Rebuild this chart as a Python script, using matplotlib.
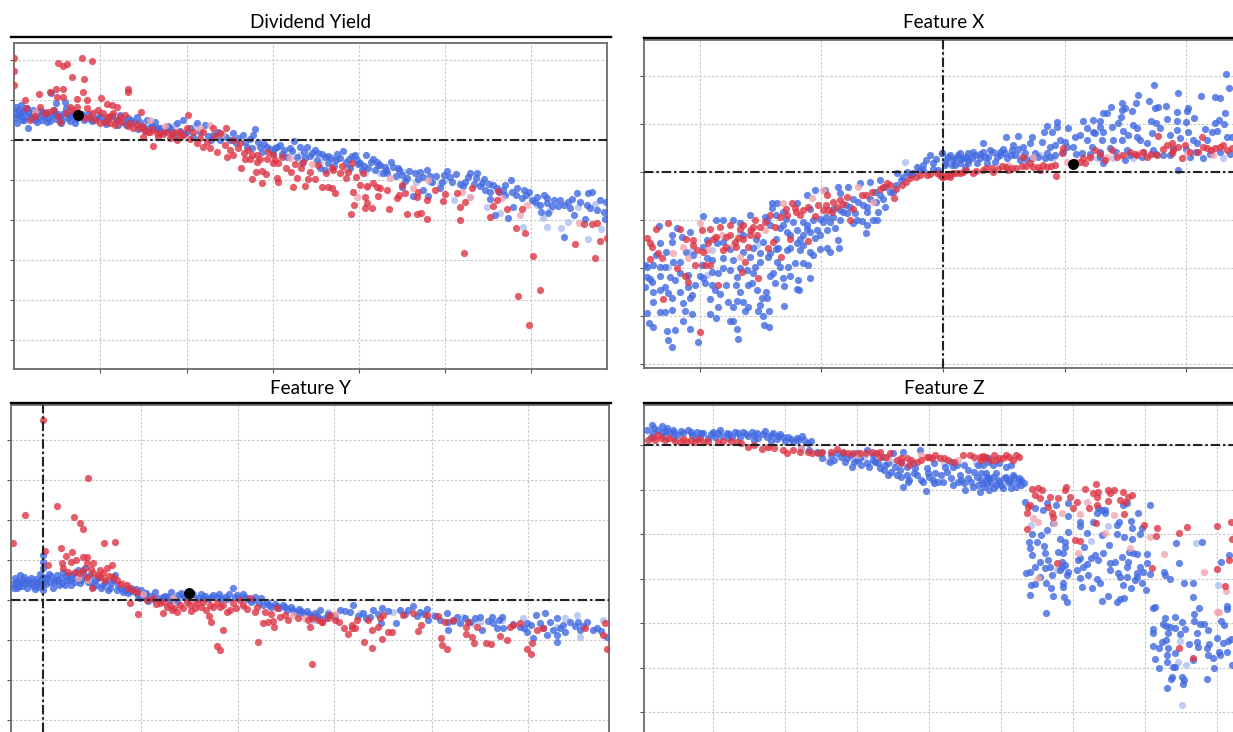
import matplotlib
matplotlib.use("Agg")
import matplotlib.pyplot as plt

W, H = 1233, 732
TITLES = ["Dividend Yield", "Feature X", "Feature Y", "Feature Z"]

# ---------- Dividend Yield ----------
dy_blue = [(15,22),(15,28),(16,33),(17,17),(18,25),(19,30),(20,24),(21,35),(22,20),(23,28),(25,31),(26,24),(28,12),(29,27),(31,22),(33,30),(35,20),(36,26),(38,24),(40,29),(42,20),(44,24),(46,27),(48,22),(50,19),(51,47),(52,25),(54,30),(56,21),(56,37),(58,26),(60,23),(62,20),(64,27),(65,38),(66,32),(68,22),(70,19),(72,25),(74,28),(76,21),(80,23),(84,20),(88,26),(92,19),(96,22),(100,24),(104,19),(108,21),(112,24),(116,20),(120,25),(124,19),(128,22),(131,20),(134,18),(137,23),(140,18),(143,14),(147,20),(150,13),(155,18),(156,11),(160,12),(164,9),(168,14),(170,12),(172,8),(177,17),(180,9),(183,20),(184,6),(190,12),(197,17),(200,8),(205,15),(208,4),(213,5),(218,8),(220,0),(226,3),(230,0),(233,7),(238,2),(243,5),(247,-7),(250,1),(253,5),(255,11),(258,-2),(260,-7),(264,-4),(267,-7),(270,-9),(273,-13),(277,-7),(280,-5),(284,-10),(287,-17),(290,-8),(294,-1),(297,-17),(300,-7),(302,-23),(304,-12),(307,-7),(310,-16),(312,-13),(315,-10),(317,-20),(320,-28),(322,-14),(325,-17),(325,-30),(328,-23),(331,-18),(334,-26),(337,-14),(340,-18),(343,-11),(346,-22),(347,-28),(350,-28),(352,-16),(355,-15),(358,-24),(360,-23),(362,-30),(366,-15),(368,-28),(371,-22),(373,-19),(375,-30),(378,-25),(380,-25),(383,-33),(385,-27),(387,-33),(391,-22),(393,-27),(396,-36),(399,-30),(402,-35),(402,-47),(405,-41),(409,-31),(413,-56),(415,-33),(418,-39),(423,-37),(423,-50),(427,-30),(428,-56),(432,-42),(436,-36),(440,-48),(442,-42),(447,-31),(450,-37),(456,-34),(460,-44),(463,-46),(468,-37),(470,-33),(476,-38),(477,-33),(480,-46),(484,-39),(485,-50),(489,-44),(490,-52),(490,-59),(493,-45),(495,-75),(499,-52),(505,-45),(505,-55),(508,-78),(511,-40),(512,-52),(513,-67),(517,-48),(522,-58),(526,-55),(529,-52),(532,-60),(537,-57),(540,-65),(541,-72),(544,-55),(547,-58),(547,-63),(548,-73),(554,-60),(558,-66),(564,-65),(564,-97),(570,-68),(572,-59),(574,-75),(577,-53),(585,-79),(587,-65),(588,-53),(592,-52),(597,-70),(604,-72),(605,-79),(606,-62)]
dy_blue_dense = [(20,27),(24,20),(27,32),(32,26),(37,18),(43,28),(47,18),(55,26),(61,17),(69,25),(75,17),(82,26),(90,21),(98,25),(106,16),(118,15),(126,15),(138,11),(145,10),(152,14),(158,12),(166,10),(174,5),(187,8),(193,3),(211,0),(222,6),(236,-3),(245,-2),(252,-8),(262,-12),(275,-8),(282,-14),(292,-11),(305,-18),(318,-13),(328,-16),(336,-20),(349,-19),(357,-20),(364,-26),(377,-22),(386,-30),(398,-28),(407,-38),(420,-32),(430,-36),(444,-35),(452,-42),(465,-42),(474,-44),(482,-43),(497,-48),(503,-50),(516,-55),(524,-50),(535,-62),(552,-66),(560,-60),(568,-62),(580,-62),(590,-68),(600,-60)]
dy_red = [(58,77),(63,74),(67,76),(82,82),(92,79),(72,63),(84,61),(83,48),(128,51),(128,48),(39,46),(50,48),(56,51),(63,51),(57,43),(63,43),(101,42),(87,40),(77,41),(25,40),(14,82),(14,69),(14,55),(141,28),(107,36),(112,35),(117,33),(188,25),(226,12),(153,-6),(143,3),(241,-28),(256,-32),(262,-31),(266,-34),(252,-39),(262,-43),(277,-38),(278,-42),(293,-47),(297,-38),(305,-46),(308,-39),(315,-39),(322,-47),(328,-47),(310,-32),(301,-28),(291,-32),(286,-28),(278,-23),(273,-23),(267,-19),(257,-22),(250,-19),(245,-19),(233,-15),(227,-17),(217,-12),(210,-8),(197,-3),(203,-7),(180,3),(177,0),(172,5),(157,7),(148,8),(143,13),(26,32),(40,33),(45,27),(53,30),(60,18),(70,33),(77,33),(87,32),(90,23),(98,30),(103,27),(107,23),(113,27),(117,20),(120,23),(125,25),(100,17),(110,17),(130,17),(140,12),(150,8),(160,7),(167,8),(180,8),(187,12),(193,8),(203,8),(213,12),(220,7),(233,0),(240,-3),(248,-10),(257,-15),(273,-15),(464,-113),(533,-116),(540,-150),(518,-156),(529,-185),(595,-118),(575,-104),(600,-101),(607,-98),(525,-93),(516,-88),(460,-80),(427,-79),(421,-73),(417,-74),(407,-74),(389,-69),(372,-68),(365,-68),(367,-63),(365,-57),(354,-65),(351,-74),(353,-52),(335,-53),(332,-48),(378,-56),(397,-58),(399,-55),(405,-53),(418,-52),(417,-57),(427,-60),(435,-50),(443,-61),(445,-54),(457,-53),(460,-67),(465,-62),(472,-48),(490,-77),(493,-66),(497,-60),(498,-51),(507,-69),(522,-69),(584,-84),(592,-84),(597,-83),(377,-47),(380,-48),(387,-50),(402,-45),(346,-38),(363,-33),(352,-23),(367,-46),(360,-45),(373,-43),(340,-33),(332,-28)]
dy_red_dense = [(30,20),(35,24),(48,28),(58,24),(66,27),(72,30),(80,26),(85,22),(92,27),(95,20),(105,18),(110,24),(115,15),(122,18),(128,14),(133,12),(137,16),(145,9),(152,11),(158,3),(163,6),(170,2),(175,8),(183,5),(190,1),(200,2),(207,-2),(215,4),(225,-5),(230,-10),(238,-8),(244,-13),(252,-15),(260,-19),(268,-12),(275,-20),(282,-17),(295,-24),(303,-22),(318,-25),(326,-33),(333,-30),(342,-26),(348,-32),(356,-37)]
dy_pink = [(520,-75),(527,-65),(579,-83),(357,-57),(367,-47),(413,-48),(428,-40),(462,-52),(470,-57),(502,-58),(165,14),(200,12),(222,6),(290,-18),(312,-24),(345,-30),(390,-38),(35,28),(95,28),(150,20),(210,15)]
dy_pale = [(547,-87),(561,-88),(588,-99),(543,-78),(568,-82),(578,-67),(595,-64),(601,-89),(487,-67),(500,-73),(523,-87),(537,-65),(454,-60),(416,-42),(430,-42),(403,-32),(445,-40),(365,-33),(470,-57),(175,15),(195,14),(300,-15),(320,-22),(335,-20),(380,-33),(440,-44),(550,-70)]
dy_black = [(78,25)]

# ---------- Feature X ----------
fx_blue = [(-814,-524),(-826,-504),(-734,-509),(-616,-502),(-829,-477),(-804,-474),(-779,-446),(-759,-472),(-617,-472),(-536,-459),(-521,-464),(-881,-454),(-869,-464),(-889,-424),(-849,-419),(-834,-419),(-814,-414),(-754,-426),(-774,-417),(-699,-426),(-681,-439),(-674,-404),(-639,-446),(-629,-446),(-644,-389),(-631,-404),(-619,-386),(-599,-389),(-584,-404),(-594,-417),(-549,-399),(-554,-416),(-539,-432),(-521,-416),(-477,-401),(-439,-351),(-431,-354),(-477,-342),(-504,-332),(-531,-359),(-529,-379),(-544,-379),(-559,-354),(-574,-334),(-584,-339),(-609,-359),(-669,-366),(-684,-354),(-694,-339),(-714,-334),(-744,-339),(-764,-344),(-754,-369),(-759,-379),(-779,-394),(-814,-379),(-824,-364),(-834,-344),(-849,-354),(-869,-359),(-894,-344),(-889,-314),(-874,-329),(-849,-312),(-819,-314),(-804,-324),(-789,-304),(-764,-309),(-729,-312),(-719,-319),(-694,-299),(-674,-304),(-659,-289),(-639,-294),(-619,-314),(-589,-294),(-564,-284),(-569,-304),(-519,-312),(-509,-302),(-479,-319),(-459,-312),(-434,-324),(-399,-319),(-404,-279),(-419,-274),(-444,-272),(-464,-284),(-489,-286),(-499,-269),(-524,-254),(-549,-269),(-579,-254),(-609,-289),(-629,-264),(-659,-259),(-694,-264),(-709,-259),(-724,-279),(-789,-269),(-809,-269),(-834,-284),(-849,-284),(-869,-279),(-889,-284),(-894,-279),(-349,-229),(-311,-227),(-339,-239),(-369,-232),(-314,-204),(-384,-197),(-429,-234),(-459,-229),(-399,-239),(-389,-249),(-419,-219),(-439,-214),(-469,-234),(-494,-229),(-519,-244),(-549,-244),(-569,-229),(-439,-174),(-409,-172),(-379,-174),(-419,-189),(-349,-174),(-324,-169),(-231,-182),(-259,-144),(-244,-146),(-209,-144),(-199,-144),(-229,-159),(-269,-154),(-309,-144),(-289,-124),(-264,-124),(-229,-119),(-194,-119),(-174,-104),(-254,-89),(-229,-104),(-279,-104),(-309,-114),(-329,-134),(-359,-149),(-389,-144),(-409,-159),(-469,-179),(-489,-169),(-479,-159),(-519,-159),(-499,-94),(-514,-92),(-514,-109),(-534,-134),(-529,-144),(-579,-129),(-609,-154),(-629,-144),(-659,-144),(-681,-144),(-719,-132),(-759,-179),(-799,-169),(-814,-189),(-814,-209),(-849,-214),(-851,-162),(-784,-194),(-679,-214),(-709,-204),(-139,-4),(-109,1),(-79,16),(-39,51),(-4,56),(16,46),(46,51),(76,36),(-29,26),(-59,21),(6,21),(36,21),(66,16),(-14,6),(-89,-4),(-174,-44),(-189,-24),(-219,-29),(-249,-34),(-284,-44),(-314,-44),(-354,-54),(-384,-54),(-409,-69),(-439,-94),(-479,-119),(-204,-59),(-189,-69),(-309,-64),(-150,-60),(-125,-25),(-95,-10),(-60,5),(-30,10),(848,294),(859,253),(633,261),(586,231),(706,238),(773,229),(816,224),(831,221),(618,214),(578,208),(536,206),(504,196),(669,199),(636,193),(646,194),(736,191),(731,183),(701,181),(846,176),(566,184),(546,193),(536,186),(481,176),(491,176),(533,164),(671,159),(701,154),(728,151),(752,161),(829,156),(816,148),(844,144),(623,154),(639,146),(421,154),(451,156),(471,153),(343,151),(311,138),(376,131),(341,136),(326,121),(303,120),(266,104),(224,108),(188,104),(121,86),(296,91),(351,96),(366,91),(396,104),(411,111),(431,131),(471,136),(451,121),(481,121),(506,136),(526,146),(541,124),(581,131),(571,141),(626,116),(651,131),(701,126),(736,121),(786,128),(806,119),(821,124),(851,104),(866,106),(681,111),(711,101),(751,96),(761,86),(791,96),(556,111),(581,106),(591,96),(611,88),(536,96),(511,96),(476,96),(456,116),(431,96),(371,76),(336,81),(321,74),(261,86),(241,76),(211,81),(206,66),(181,68),(171,61),(141,66),(121,61),(91,61),(76,56),(51,56),(21,51),(-4,56),(36,41),(61,41),(86,41),(111,41),(136,46),(161,46),(186,56),(216,51),(246,56),(276,56),(311,56),(336,51),(391,76),(416,58),(446,74),(471,61),(501,71),(551,66),(631,66),(691,71),(741,46),(781,41),(706,6),(481,26),(6,26),(26,21),(51,26),(76,26),(101,26),(131,26),(156,31),(191,41),(231,36),(266,41),(306,41),(546,36),(596,46),(661,51)]
fx_blue_dense = [(-300,-120),(-330,-110),(-350,-135),(-370,-140),(-400,-110),(-420,-150),(-450,-150),(-470,-140),(-500,-130),(-500,-200),(-460,-190),(-430,-200),(-400,-180),(-370,-190),(-340,-150),(-290,-100),(-270,-80),(-240,-100),(-220,-80),(-200,-90),(-180,-80),(-160,-60),(-140,-40),(-120,-15),(-100,-5),(-70,5),(-50,35),(-20,40),(10,35),(30,35),(55,40),(70,45),(95,50),(110,55),(125,45),(150,60),(170,50),(205,50),(225,70),(250,40),(285,45),(320,45),(360,60),(400,55),(440,55),(470,45),(520,60),(560,50),(600,60),(640,55),(680,50),(730,70),(760,60),(800,55),(830,60),(860,55),(-560,-200),(-600,-190),(-640,-230),(-600,-240),(-540,-210),(-500,-230),(-660,-210),(-720,-225),(-750,-250),(-770,-240),(-830,-240),(-860,-250),(-880,-320),(-870,-390),(-790,-360),(-700,-380),(-650,-340),(-620,-340)]
fx_red = [(-729,-481),(-824,-152),(-862,-172),(-789,-171),(-889,-199),(-879,-214),(-872,-226),(-854,-244),(-844,-259),(-879,-261),(-799,-289),(-774,-312),(-764,-329),(-839,-382),(-674,-339),(-554,-317),(-594,-271),(-604,-299),(-744,-279),(-714,-279),(-699,-279),(-739,-234),(-704,-214),(-749,-204),(-724,-174),(-699,-172),(-669,-164),(-659,-234),(-624,-209),(-614,-199),(-599,-159),(-564,-144),(-559,-189),(-524,-229),(-509,-209),(-584,-224),(-487,-256),(-459,-202),(-404,-206),(-504,-164),(-469,-129),(-444,-109),(-454,-94),(-419,-114),(-384,-131),(-359,-114),(-334,-119),(-319,-104),(-289,-74),(-279,-144),(-309,-84),(-349,-69),(-244,-69),(-214,-59),(-169,-34),(-159,-39),(-124,-39),(-147,-79),(-99,-19),(-69,-9),(-49,-9),(-19,-4),(1,-14),(21,-9),(51,-4),(-549,-164),(-639,-190),(-680,-195),(-575,-175),(-535,-150),(-440,-120),(-350,-100),(-300,-95),(11,-9),(31,-4),(61,1),(91,-4),(121,6),(146,11),(176,18),(196,6),(206,11),(236,18),(241,46),(286,16),(291,6),(311,16),(336,21),(339,-12),(361,71),(356,56),(421,41),(426,26),(456,66),(486,36),(506,66),(521,46),(561,61),(581,51),(611,46),(646,108),(641,51),(671,81),(686,86),(691,66),(716,41),(726,81),(776,104),(766,61),(791,71),(816,71),(841,81),(851,66),(866,71),(686,56),(411,31),(261,26),(151,1),(-4,-14),(21,-14)]
fx_red_dense = [(-520,-130),(-490,-135),(-470,-110),(-430,-130),(-405,-105),(-375,-100),(-345,-115),(-330,-90),(-270,-110),(-230,-70),(-190,-50),(-180,-45),(-140,-50),(-110,-30),(-80,-15),(-40,-5),(-10,-10),(10,-12),(40,-2),(70,5),(100,2),(130,12),(165,10),(190,15),(220,12),(250,18),(270,15),(300,20),(325,18),(395,30),(440,45),(470,55),(540,50),(575,55),(600,60),(625,55),(660,70),(705,75),(740,60),(780,75),(805,65),(830,75),(-650,-195),(-620,-225),(-690,-200),(-640,-160),(-600,-200),(-580,-190),(-570,-165),(-610,-170),(-650,-225),(-720,-240),(-750,-220),(-770,-200)]
fx_pink = [(-779,-224),(-809,-244),(-764,-259),(-709,-234),(-684,-194),(-629,-219),(-609,-254),(-729,-154),(-664,-189),(-579,-174),(-534,-174),(-479,-94),(-394,-79),(-359,-54),(-254,-44),(-209,-89),(196,21),(271,46),(491,46),(531,51),(591,56),(731,56),(811,51),(441,41),(371,31)]
fx_pale = [(-114,31),(-824,-284),(-559,-219),(-709,-309),(-609,-184),(-694,-234),(-769,-314),(-754,-234),(331,41),(291,51),(461,41),(511,41),(571,41),(621,51),(841,41),(231,51)]
fx_black = [(390,24)]

# ---------- Feature Y ----------
fy_blue = [(-30,16),(-28,22),(-26,12),(-25,19),(-23,25),(-21,14),(-20,20),(-18,17),(-16,12),(-14,17),(-12,22),(-10,14),(-8,11),(-6,18),(-4,15),(-3,26),(-2,20),(0,45),(0,38),(0,32),(0,23),(0,17),(0,10),(2,22),(3,16),(6,26),(7,18),(10,12),(12,20),(14,25),(16,15),(18,22),(20,28),(22,15),(24,20),(26,25),(28,15),(30,22),(32,18),(35,30),(38,20),(40,27),(42,32),(45,18),(47,25),(50,13),(52,20),(55,22),(58,12),(62,18),(65,10),(68,17),(72,25),(75,15),(78,12),(82,10),(85,7),(88,12),(92,8),(95,4),(98,10),(100,3),(103,7),(105,-1),(108,4),(112,8),(115,2),(118,0),(122,4),(125,3),(128,8),(132,2),(135,5),(138,7),(142,3),(145,1),(150,6),(155,2),(158,6),(162,4),(165,1),(170,5),(174,3),(178,1),(182,3),(186,6),(190,12),(192,3),(196,2),(200,6),(204,1),(208,-2),(212,3),(216,-3),(220,-5),(224,-2),(228,-7),(232,-4),(236,-8),(240,-5),(244,-10),(248,-7),(252,-12),(256,-9),(260,-13),(264,-11),(268,-16),(272,-13),(276,-18),(277,-10),(282,-18),(297,-10),(307,-12),(310,-5),(320,-13),(327,-17),(330,-10),(338,-23),(339,-8),(357,-10),(353,-23),(365,-10),(370,-6),(377,-12),(384,-9),(385,-20),(397,-20),(404,-13),(405,-22),(405,-30),(414,-17),(417,-23),(427,-22),(437,-17),(439,-30),(449,-17),(450,-23),(454,-28),(459,-17),(460,-28),(477,-27),(484,-23),(484,-32),(490,-38),(493,-15),(497,-23),(502,-13),(504,-35),(507,-22),(514,-18),(514,-35),(514,-42),(517,-28),(522,-32),(527,-22),(535,-22),(537,-30),(544,-22),(554,-28),(564,-37)]
fy_blue_dense = [(-29,12),(-27,18),(-24,14),(-22,18),(-19,23),(-15,20),(-11,17),(-7,21),(-5,13),(4,22),(8,24),(11,18),(15,20),(19,17),(23,24),(27,20),(31,26),(34,22),(37,17),(43,22),(48,18),(53,15),(60,15),(67,12),(70,20),(74,10),(80,8),(87,9),(93,11),(97,2),(102,6),(110,1),(120,3),(127,0),(134,-1),(140,4),(148,4),(152,0),(160,2),(168,3),(176,6),(184,1),(194,5),(202,3),(210,0),(218,2),(226,-5),(234,-6),(242,-7),(250,-10),(258,-11),(266,-14),(274,-16),(285,-14),(292,-16),(302,-11),(315,-16),(323,-18),(335,-14),(345,-11),(362,-14),(374,-16),(381,-14),(392,-16),(410,-21),(422,-18),(432,-18),(445,-21),(456,-20),(470,-24),(481,-28),(488,-25),(500,-28),(510,-30),(520,-25),(532,-26),(540,-26),(550,-30),(558,-31)]
fy_red = [(0,180),(45,122),(14,94),(-18,85),(31,83),(37,77),(40,71),(-30,57),(61,57),(72,58),(18,52),(2,49),(23,44),(29,48),(40,43),(44,43),(28,38),(33,40),(19,37),(5,35),(20,32),(44,37),(50,37),(69,35),(64,32),(57,30),(50,27),(60,27),(37,27),(32,28),(44,23),(57,23),(70,23),(74,20),(49,12),(84,15),(90,10),(87,-3),(95,-14),(120,-13),(129,-10),(134,-12),(148,-11),(166,-16),(110,2),(117,-3),(124,-7),(137,-5),(144,-2),(154,-3),(160,-2),(167,-5),(177,-7),(187,-10),(174,-3),(190,-3),(197,0),(207,2),(214,-7),(222,-12),(220,-23),(225,-22),(230,-21),(231,-27),(234,-8),(237,-17),(245,-20),(267,-27),(269,-18),(279,-22),(285,-18),(301,-28),(305,-34),(309,-28),(312,-28),(329,-30),(335,-27),(345,-32),(349,-32),(321,-42),(339,-39),(329,-48),(375,-31),(378,-25),(398,-38),(399,-45),(404,-49),(423,-34),(429,-37),(431,-43),(443,-43),(448,-44),(457,-36),(464,-40),(484,-49),(489,-43),(488,-54),(564,-49),(560,-35),(494,-30),(467,-27),(477,-23),(423,-27),(434,-27),(402,-22),(384,-15),(370,-13),(337,-18),(314,-20),(309,-25),(292,-20),(287,-15),(279,-22),(542,-28),(562,-23),(174,-46),(177,-50),(215,-42),(269,-64),(180,-30),(168,-22)]
fy_red_dense = [(25,28),(40,30),(48,31),(55,25),(62,20),(66,24),(78,16),(85,12),(94,8),(104,0),(113,-4),(121,-2),(127,-5),(131,-8),(140,-8),(147,-5),(152,-8),(158,-7),(163,-10),(170,-7),(180,-5),(184,-12),(193,-8),(200,-5),(204,-9),(212,-12),(228,-14),(242,-15),(255,-18),(265,-20),(275,-20),(296,-22),(325,-20),(340,-15),(360,-15),(395,-16),(410,-20),(425,-22),(470,-25),(500,-28)]
fy_pink = [(45,20),(35,22),(80,17),(100,6),(130,2),(150,-1),(200,-6),(250,-15),(262,-18),(292,-14)]
fy_pale = [(537,-37),(560,-20),(522,-18),(534,-15),(480,-18),(437,-22),(430,-23),(459,-20),(420,-17),(317,-13),(350,-12),(390,-15),(514,-27),(255,-14),(270,-20),(285,-12)]
fy_black = [(146,7)]

# ---------- Feature Z ----------
fz_blue = [(-1048,60),(-1018,57),(-1003,50),(-983,45),(-1063,45),(-1043,35),(-938,45),(-953,35),(-913,40),(-893,35),(-863,40),(-843,45),(-823,35),(-798,40),(-773,40),(-748,40),(-708,43),(-733,35),(-683,37),(-663,33),(-638,25),(-598,27),(-613,20),(-578,5),(-858,25),(-838,27),(-808,25),(-783,25),(-758,27),(-728,20),(-703,25),(-673,17),(-648,13),(-623,10),(-1013,40),(-1028,45),(-973,30),(-993,35),(-928,30),(-903,25),(-878,20),(-538,-40),(-513,-50),(-553,-20),(-493,-25),(-463,-40),(-448,-65),(-433,-45),(-403,-55),(-378,-50),(-363,-70),(-313,-90),(-293,-127),(-226,-137),(-283,-90),(-253,-90),(-233,-110),(-203,-105),(-173,-110),(-163,-80),(-143,-65),(-223,-70),(-283,-65),(-318,-65),(-338,-55),(-403,-15),(-433,-25),(-473,-25),(-243,-15),(-293,-20),(-323,-25),(-108,-135),(-98,-100),(-83,-125),(-63,-140),(-43,-115),(-43,-95),(-73,-95),(-123,-90),(-133,-60),(-198,-85),(-168,-65),(-258,-70),(-303,-75),(-348,-60),(-383,-30),(-423,-40),(-468,-50),(-60,-105),(-50,-125),(-40,-100),(-30,-115),(-20,-130),(-10,-105),(0,-120),(10,-100),(20,-112),(30,-130),(40,-95),(50,-110),(60,-120),(70,-115),(-55,-60),(-40,-50),(-25,-60),(-5,-55),(15,-65),(30,-60),(-15,-120),(5,-130),(25,-105),(45,-125),(55,-100),(-35,-135),(-45,-85),(136,-505),(88,-451),(157,-452),(198,-471),(190,-455),(302,-467),(320,-452),(349,-470),(357,-463),(369,-458),(244,-425),(272,-430),(297,-415),(287,-403),(237,-400),(187,-425),(187,-413),(149,-430),(135,-415),(102,-417),(89,-420),(75,-385),(87,-380),(102,-365),(117,-350),(132,-370),(147,-365),(152,-390),(177,-375),(192,-360),(202,-380),(197,-390),(227,-375),(247,-365),(262,-390),(257,-357),(282,-330),(307,-325),(292,-345),(327,-355),(327,-375),(342,-350),(357,-395),(352,-385),(377,-395),(367,-420),(389,-430),(402,-405),(407,-385),(427,-380),(422,-415),(434,-435),(447,-387),(437,-355),(417,-365),(382,-350),(362,-335),(237,-340),(269,-340),(232,-345),(182,-350),(187,-325),(172,-320),(132,-325),(142,-345),(92,-330),(87,-310),(85,-292),(107,-290),(129,-303),(177,-283),(192,-290),(202,-260),(192,-305),(249,-307),(325,-300),(259,-265),(302,-270),(349,-268),(369,-275),(392,-282),(417,-267),(392,-250),(424,-250),(347,-240),(355,-230),(390,-228),(237,-243),(237,-230),(202,-212),(137,-255),(155,-235),(94,-267),(119,-270),(72,-170),(102,-190),(127,-195),(137,-175),(165,-180),(202,-175),(292,-190),(302,-195),(312,-195),(287,-205),(312,-205),(367,-180),(377,-175),(412,-203),(277,-230),(407,-395),(377,-365),(397,-325),(407,-327),(437,-327),(385,-320),(117,-395),(182,-365),(499,-730),(512,-695),(509,-703),(542,-695),(549,-705),(547,-718),(618,-703),(475,-670),(462,-643),(499,-652),(517,-665),(522,-667),(577,-645),(639,-670),(635,-640),(657,-630),(622,-630),(617,-610),(625,-597),(649,-580),(667,-595),(682,-587),(689,-583),(677,-620),(655,-620),(694,-660),(589,-590),(592,-605),(565,-597),(537,-568),(522,-625),(497,-630),(502,-608),(482,-590),(475,-610),(457,-603),(495,-585),(502,-565),(457,-565),(455,-553),(487,-537),(495,-543),(507,-545),(522,-550),(522,-515),(492,-520),(542,-530),(552,-553),(587,-563),(622,-555),(580,-528),(597,-537),(609,-537),(580,-508),(594,-490),(659,-528),(670,-540),(677,-483),(677,-493),(577,-455),(455,-488),(462,-485),(549,-415),(577,-415),(507,-402),(489,-382),(493,-390),(535,-355),(659,-352),(684,-330),(524,-295),(604,-292),(447,-180)]
fz_blue_dense = [(-540,-25),(-510,-30),(-480,-35),(-440,-50),(-420,-60),(-395,-65),(-370,-55),(-350,-75),(-330,-80),(-300,-95),(-275,-105),(-260,-85),(-240,-105),(-215,-95),(-190,-110),(-180,-90),(-150,-100),(-130,-110),(-110,-115),(-90,-110),(-70,-120),(-55,-115),(-35,-100),(-25,-95),(-15,-85),(-5,-110),(15,-95),(30,-110),(35,-90),(60,-105),(-100,-75),(-80,-80),(-60,-85),(-120,-105),(-145,-120),(-200,-115),(-280,-110),(-340,-90),(-220,-85),(-1040,50),(-1005,42),(-980,38),(-960,42),(-930,38),(-900,35),(-870,32),(-850,35),(-815,32),(-790,35),(-765,33),(-740,30),(-715,33),(-690,30),(-670,28),(-655,25),(-630,18),(-610,15),(-590,15),(-570,12),(-985,20),(-1010,28),(-1050,25),(-915,20),(-820,20),(-740,15),(-690,12),(-600,-10),(-575,-15),(-500,-45),(-450,-30),(-385,-45),(-355,-35),(-300,-50),(-265,-55),(-200,-55),(-150,-50),(-110,-60),(-70,-60),(-40,-40)]
fz_red = [(-1058,15),(-1028,30),(-1038,15),(-1008,15),(-978,13),(-963,10),(-943,10),(-918,10),(-893,10),(-833,13),(-793,8),(-758,-5),(-718,-13),(-653,-15),(-643,-23),(-603,-20),(-568,-25),(-538,-20),(-493,-13),(-458,-23),(-423,-23),(-388,-20),(-363,-20),(-313,-45),(-283,-40),(-253,-50),(-223,-35),(-198,-30),(-183,-40),(-158,-45),(-93,-30),(-63,-35),(-363,-35),(-333,-25),(-208,-40),(-55,-32),(-45,-35),(-20,-30),(-15,-45),(15,-30),(35,-45),(45,-30),(55,-35),(-5,-40),(-60,-45),(92,-132),(112,-128),(122,-135),(102,-150),(117,-160),(194,-125),(192,-135),(252,-132),(285,-117),(277,-145),(292,-140),(322,-135),(340,-135),(327,-143),(367,-142),(392,-150),(382,-157),(357,-165),(372,-170),(322,-167),(289,-155),(227,-172),(207,-155),(172,-160),(147,-157),(82,-187),(77,-203),(87,-180),(142,-187),(152,-205),(155,-217),(217,-190),(265,-188),(287,-180),(369,-208),(284,-235),(77,-252),(222,-285),(237,-288),(169,-355),(430,-240),(467,-250),(464,-273),(534,-263),(559,-245),(648,-244),(689,-232),(452,-370),(648,-371),(684,-345),(672,-423),(534,-608),(577,-640),(694,-282)]
fz_red_dense = [(-1045,25),(-1020,20),(-995,20),(-955,18),(-930,15),(-905,18),(-880,12),(-850,8),(-810,12),(-780,5),(-740,0),(-700,-5),(-680,-8),(-625,-15),(-580,-20),(-550,-25),(-510,-20),(-475,-20),(-445,-25),(-405,-25),(-375,-25),(-345,-35),(-300,-40),(-270,-45),(-240,-45),(-215,-35),(-170,-40),(-140,-50),(-115,-30),(-80,-35),(-50,-40),(-30,-45),(5,-40),(25,-35),(-300,-55),(-275,-60)]
fz_pink = [(112,-400),(232,-323),(387,-310),(339,-210),(312,-263),(159,-235),(112,-230),(97,-220),(182,-203),(237,-207),(257,-170),(447,-275),(490,-328),(609,-382),(674,-438),(647,-502),(653,-502),(-700,-5),(-600,-10),(-430,-30),(-340,-38),(-240,-30),(-130,-45),(-1000,20),(-950,18)]
fz_pale = [(270,-287),(89,-240),(322,-243),(167,-375),(542,-780),(555,-660),(532,-650),(585,-295),(537,-587),(652,-420),(-520,-48),(-410,-35),(-320,-50),(-170,-55),(-75,-55)]
fz_black = []

BLUE, RED, PINK, PALE = "#4169E1", "#DC3545", "#F0A6AE", "#AEBEF0"


def axes_px(left, top, right, bottom):
    return fig.add_axes([left / W, 1 - bottom / H, (right - left) / W, (bottom - top) / H])


def scatter(ax, pts, color, alpha=0.8, s=27, z=3):
    if pts:
        ax.scatter([p[0] for p in pts], [p[1] for p in pts], s=s, color=color,
                   alpha=alpha, linewidths=0, zorder=z, clip_on=True)


def panel(box, xlim, ylim, xticks, yticks, blue, red, pink, pale, black,
          vline=None, hline=0, hide=()):
    ax = axes_px(*box)
    ax.set_xlim(*xlim)
    ax.set_ylim(*ylim)
    ax.set_xticks(xticks)
    ax.set_yticks(yticks)
    ax.set_xticklabels([])
    ax.set_yticklabels([])
    ax.tick_params(length=3, width=0.8, color="#555555", direction="out")
    ax.grid(True, color="#c8c8c8", lw=0.8, ls=(0, (2.2, 1.6)), zorder=1)
    ax.set_axisbelow(True)
    for name, sp in ax.spines.items():
        sp.set_color("#6b6b6b")
        sp.set_linewidth(1.3)
        if name in hide:
            sp.set_visible(False)
    scatter(ax, pale, PALE)
    scatter(ax, blue, BLUE)
    scatter(ax, pink, PINK)
    scatter(ax, red, RED)
    dash = (0, (4.5, 1.4, 1.2, 1.4))
    ax.axhline(hline, color="#222222", lw=1.5, ls=dash, zorder=5)
    if vline is not None:
        ax.axvline(vline, color="#222222", lw=1.5, ls=dash, zorder=5)
    scatter(ax, black, "black", alpha=1, s=62, z=6)
    return ax


fig = plt.figure(figsize=(W / 100, H / 100), dpi=100, facecolor="white")

panel((14, 43, 607, 369), (14, 607), (-229, 97),
      [100, 187, 273, 359, 445, 531], [-200, -160, -120, -80, -40, 0, 40, 80],
      dy_blue + dy_blue_dense, dy_red + dy_red_dense, dy_pink, dy_pale, dy_black)
panel((644, 40, 1233, 368), (-897, 870), (-588, 396),
      [-730, -365, 0, 365, 730], [-576, -432, -288, -144, 0, 144, 288],
      fx_blue + fx_blue_dense, fx_red + fx_red_dense, fx_pink, fx_pale, fx_black,
      vline=0, hide=("right",))
panel((11, 405, 609, 732), (-32, 566), (-132, 195),
      [0, 98, 195, 291, 389, 485], [-120, -80, -40, 0, 40, 80, 120, 160],
      fy_blue + fy_blue_dense, fy_red + fy_red_dense, fy_pink, fy_pale, fy_black,
      vline=0, hide=("bottom",))
panel((644, 405, 1233, 732), (-1071, 696), (-861, 120),
      [-864, -648, -432, -216, 0, 216, 432, 648],
      [-801, -667.5, -534, -400.5, -267, -133.5, 0],
      fz_blue + fz_blue_dense, fz_red + fz_red_dense, fz_pink, fz_pale, fz_black,
      hide=("right", "bottom"))

font = ["Lato", "DejaVu Sans"]
for cx, py, title in [(311, 22, TITLES[0]), (944, 22, TITLES[1]),
                      (311, 389, TITLES[2]), (944, 389, TITLES[3])]:
    fig.text(cx / W, 1 - py / H, title, ha="center", va="center",
             fontsize=13.6, family=font, color="black")

for x0, x1, py in [(11, 611, 37), (644, 1233, 38), (11, 611, 402.5), (644, 1233, 402.5)]:
    fig.add_artist(plt.Line2D([x0 / W, x1 / W], [1 - py / H, 1 - py / H],
                              color="black", lw=1.7, transform=fig.transFigure))

fig.savefig("out.png", dpi=100)
